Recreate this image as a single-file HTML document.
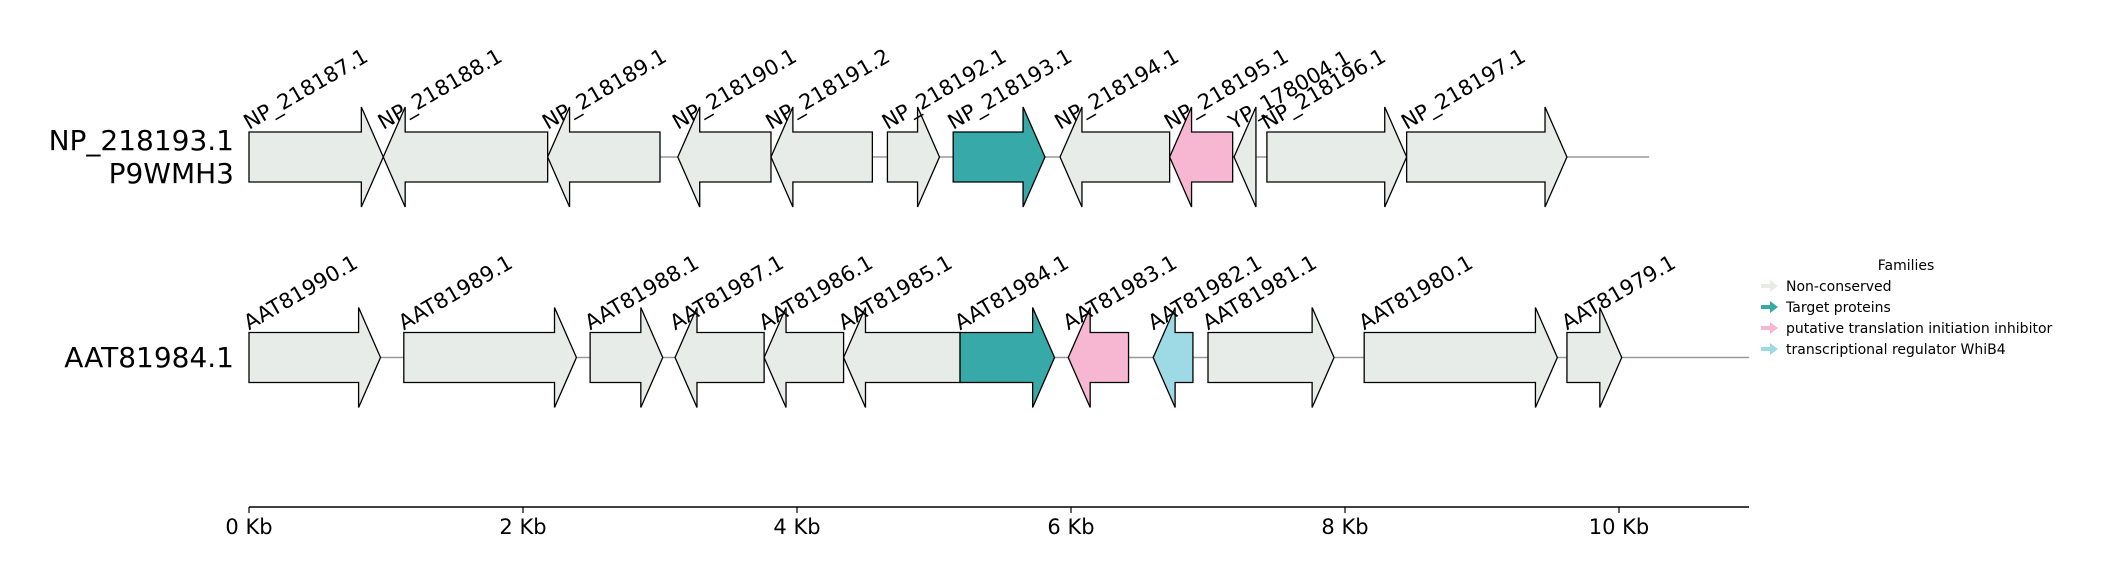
<!DOCTYPE html>
<html><head><meta charset="utf-8">
<style>
html,body{margin:0;padding:0;background:#fff;}
svg{display:block;font-family:"DejaVu Sans","Liberation Sans",sans-serif;}
</style></head>
<body>
<svg id="chart" width="2106" height="587" viewBox="0 0 2106 587" xmlns="http://www.w3.org/2000/svg">
  <text x="234" y="150" font-size="28" text-anchor="end">NP_218193.1</text>
  <text x="234" y="183" font-size="28" text-anchor="end">P9WMH3</text>
  <text x="234" y="367" font-size="28" text-anchor="end">AAT81984.1</text>
  <g id="genes"></g>
  <g id="axis"></g>
  <g>
    <text x="1906" y="270" font-size="14" text-anchor="middle">Families</text>
    <g id="legend-items"></g>
  </g>
</svg>
<script>
const rowNames = ["NP_218193.1", "AAT81984.1"];
const rowEnds = [10.22, 10.95];
const row1Names = ["NP_218187.1","NP_218188.1","NP_218189.1","NP_218190.1","NP_218191.2","NP_218192.1","NP_218193.1","NP_218194.1","NP_218195.1","YP_178004.1","NP_218196.1","NP_218197.1"];
const row1Starts = [0, 0.98, 2.18, 3.13, 3.81, 4.66, 5.14, 5.92, 6.72, 7.19, 7.43, 8.45];
const row1Ends = [0.98, 2.18, 3.0, 3.81, 4.55, 5.04, 5.81, 6.72, 7.18, 7.35, 8.45, 9.62];
const row1Strand = [1,-1,-1,-1,-1,1,1,-1,-1,-1,1,1];
const row1Family = [0,0,0,0,0,0,1,0,2,0,0,0];
const row2Names = ["AAT81990.1","AAT81989.1","AAT81988.1","AAT81987.1","AAT81986.1","AAT81985.1","AAT81984.1","AAT81983.1","AAT81982.1","AAT81981.1","AAT81980.1","AAT81979.1"];
const row2Starts = [0, 1.13, 2.49, 3.11, 3.76, 4.34, 5.19, 5.98, 6.60, 7.0, 8.14, 9.62];
const row2Ends = [0.96, 2.39, 3.02, 3.76, 4.34, 5.19, 5.88, 6.42, 6.89, 7.92, 9.55, 10.02];
const row2Strand = [1,1,1,-1,-1,-1,1,-1,-1,1,1,1];
const row2Family = [0,0,0,0,0,0,1,2,3,0,0,0];
const familyNames = ["Non-conserved","Target proteins","putative translation initiation inhibitor","transcriptional regulator WhiB4"];
const familyColors = ["#e8ece9","#38a9a9","#f7b6d2","#9edae5"];
const tickValues = [0,2,4,6,8,10];
const tickLabels = ["0 Kb","2 Kb","4 Kb","6 Kb","8 Kb","10 Kb"];

const NS = "http://www.w3.org/2000/svg";
const X0 = 249, PX = 137;
function xs(kb){ return X0 + kb*PX; }
const rowY = [157, 357.5];
const HB = 25, HT = 50, HEAD = 0.16;
const genesG = document.getElementById('genes');

function mk(tag, attrs, parent){
  const e = document.createElementNS(NS, tag);
  for (const k in attrs) e.setAttribute(k, attrs[k]);
  parent.appendChild(e); return e;
}

const rows = [
  [row1Names,row1Starts,row1Ends,row1Strand,row1Family],
  [row2Names,row2Starts,row2Ends,row2Strand,row2Family]
];
rows.forEach((r, ri) => {
  const cy = rowY[ri];
  const ln = mk('line', {x1: xs(0), x2: xs(rowEnds[ri]), y1: cy, y2: cy, stroke: '#999', 'stroke-width': 1.5}, genesG);
  
  
  const [names, st, en, sd, fam] = r;
  for (let i = 0; i < names.length; i++) {
    const a = xs(st[i]), b = xs(en[i]);
    const hl = Math.min(HEAD*PX, b - a);
    let pts;
    if (sd[i] > 0) {
      const h = b - hl;
      pts = [[a,cy-HB],[h,cy-HB],[h,cy-HT],[b,cy],[h,cy+HT],[h,cy+HB],[a,cy+HB]];
    } else {
      const h = a + hl;
      pts = [[b,cy-HB],[h,cy-HB],[h,cy-HT],[a,cy],[h,cy+HT],[h,cy+HB],[b,cy+HB]];
    }
    const p = mk('polygon', {points: pts.map(q => q.join(',')).join(' '), fill: familyColors[fam[i]], stroke: '#000', 'stroke-width': 1.3}, genesG);
    
    
    const t = mk('text', {x: 0, y: 0, 'font-size': 21, transform: 'translate(' + a + ',' + (cy - HB - 2) + ') rotate(-30)'}, genesG);
    t.textContent = names[i];
    
    
  }
});

const ax = document.getElementById('axis');
const axl = mk('line', {x1: xs(0), x2: 1749, y1: 507, y2: 507, stroke: '#000', 'stroke-width': 1.5}, ax);


tickValues.forEach((v, i) => {
  const tk = mk('line', {x1: xs(v), x2: xs(v), y1: 507, y2: 513, stroke: '#000', 'stroke-width': 1.2}, ax);
  
  
  const tl = mk('text', {x: xs(v), y: 534, 'font-size': 21, 'text-anchor': 'middle'}, ax);
  tl.textContent = tickLabels[i];
  
  
});

const lg = document.getElementById('legend-items');
const legY = [286, 307, 328, 349];
familyNames.forEach((n, i) => {
  const y = legY[i];
  const m = mk('polygon', {points: [[1761,y-2],[1770,y-2],[1770,y-6],[1778,y],[1770,y+6],[1770,y+2],[1761,y+2]].map(q=>q.join(',')).join(' '), fill: familyColors[i]}, lg);
  
  
  const t = mk('text', {x: 1786, y: y + 5, 'font-size': 14}, lg);
  t.textContent = n;
  
  
});
</script>
</body></html>
